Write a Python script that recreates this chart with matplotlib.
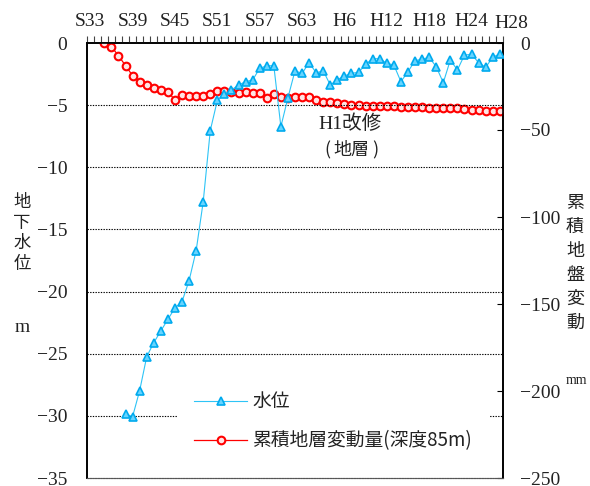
import matplotlib
matplotlib.use('Agg')
import matplotlib.pyplot as plt
import numpy as np
from matplotlib.lines import Line2D
from matplotlib.patches import Rectangle

# ---------------- data ----------------
tick_labels = ['S33', 'S39', 'S45', 'S51', 'S57', 'S63', 'H6', 'H12', 'H18', 'H24']
tick_label_years = [1958, 1964, 1970, 1976, 1982, 1988, 1994, 2000, 2006, 2012]
last_label = 'H28'

water_years = list(range(1963, 2017))
water_level = [-29.85, -30.06, -27.97, -25.24, -24.11, -23.17, -22.23, -21.32, -20.81, -19.12,
               -16.71, -12.77, -7.05, -4.62, -4.13, -3.78, -3.38, -3.11, -2.98, -2.04,
               -1.83, -1.83, -6.73, -4.40, -2.24, -2.45, -1.58, -2.40, -2.24, -3.38,
               -2.95, -2.65, -2.44, -2.36, -1.72, -1.26, -1.26, -1.64, -1.77, -3.11,
               -2.31, -1.42, -1.31, -1.15, -1.91, -3.19, -1.37, -2.17, -0.97, -0.91,
               -1.58, -1.96, -1.15, -0.88]

subs_years = list(range(1960, 2017))
subsidence = [0.0, -2.1, -7.3, -13.0, -18.8, -22.2, -24.1, -25.9, -27.0, -28.0,
              -32.8, -29.7, -30.3, -30.6, -30.3, -29.3, -27.6, -27.6, -28.0, -28.5,
              -28.4, -28.5, -28.5, -31.5, -29.1, -30.8, -31.5, -30.8, -30.8, -30.8,
              -32.8, -33.7, -34.1, -34.7, -35.2, -35.6, -35.8, -36.0, -36.0, -36.0,
              -36.2, -36.4, -36.6, -36.8, -37.0, -37.0, -37.2, -37.2, -37.4, -37.4,
              -37.5, -38.1, -38.5, -38.7, -38.9, -39.1, -39.3]

left_ticks = [0, -5, -10, -15, -20, -25, -30, -35]
right_ticks = [0, -50, -100, -150, -200, -250]

label_water = '水位'
label_subs = '累積地層変動量(深度85m)'

# ---------------- style ----------------
SERIF = ['Liberation Serif', 'Noto Sans CJK JP']
CJK = ['Noto Sans CJK JP', 'DejaVu Sans']
plt.rcParams['font.family'] = SERIF
TXT = '#222222'
BLUE = '#2ec4f6'
BLUE_E = '#00aaee'
RED = '#ff0000'

W, H = 590, 486
fig = plt.figure(figsize=(W / 100, H / 100), dpi=100)
x0, x1, yt, yb = 86.7, 503.3, 43, 478
ax = fig.add_axes([x0 / W, 1 - yb / H, (x1 - x0) / W, (yb - yt) / H])
ax2 = ax.twinx()

ax.set_xlim(1957.5, 2016.5)
ax.set_ylim(-35, 0)
ax2.set_ylim(-250, 0)

# top category axis
ax.xaxis.set_ticks_position('top')
ax.set_xticks(np.arange(1957.5, 2017, 1.0))
ax.set_xticklabels([])
ax.set_xticks(tick_label_years, minor=True)
ax.set_xticklabels(tick_labels, minor=True)
ax.tick_params(axis='x', which='major', top=True, bottom=False, direction='out',
               length=5, width=0.8, color='#444444', labeltop=False, labelbottom=False)
ax.tick_params(axis='x', which='minor', top=True, bottom=False, length=0,
               pad=9, labelsize=14, labeltop=True, labelbottom=False, labelcolor=TXT)
fig.text(511.7 / W, 1 - 24 / H, last_label, ha='center', va='center', fontsize=14,
         family=SERIF, color=TXT)

# left axis
ax.set_yticks(left_ticks)
ax.set_yticklabels([('−%d' % -v) if v < 0 else '0' for v in left_ticks])
ax.tick_params(axis='y', length=0, pad=14, labelsize=14, labelcolor=TXT)
for v in left_ticks[1:-1]:
    ax.axhline(v, color='black', lw=0.8, ls=(0, (1.2, 1.2)), zorder=0.5)

# right axis
ax2.set_yticks(right_ticks)
ax2.set_yticklabels([('−%d' % -v) if v < 0 else '0' for v in right_ticks])
ax2.tick_params(axis='y', direction='in', length=4, width=0.8, pad=12, labelsize=14,
                labelcolor=TXT)
for a in (ax, ax2):
    a.spines['bottom'].set_linestyle((0, (1.2, 1.2)))
    a.spines['bottom'].set_color('#555555')
    a.spines['top'].set_linewidth(1.2)
    a.spines['left'].set_linewidth(1.2)
    a.spines['right'].set_linewidth(1.2)

# series
red_style = dict(color=RED, lw=0.9, marker='o', ms=5.5, mfc='#ffe4e4', mec=RED, mew=1.5)
blue_style = dict(color=BLUE, lw=0.8, marker='^', ms=5.5, mfc='#66d4ff', mec=BLUE_E, mew=1.2)
ax2.plot(subs_years, subsidence, zorder=3, **red_style)
ax.plot(water_years, water_level, zorder=3, **blue_style)
ax.set_zorder(2)
ax2.set_zorder(1)
ax.patch.set_visible(False)

# annotation
fig.text(350 / W, 1 - 123.5 / H, 'H1改修', fontsize=14, ha='center', va='center',
         family=SERIF, color=TXT)
fig.text(327 / W, 1 - 150 / H, '(', ha='center', va='center', fontsize=13,
         family=CJK, color=TXT)
fig.text(351 / W, 1 - 150 / H, '地層', ha='center', va='center', fontsize=13,
         family=CJK, color=TXT)
fig.text(375 / W, 1 - 150 / H, ')', ha='center', va='center', fontsize=13,
         family=CJK, color=TXT)

# legend with white box
ax.add_patch(Rectangle((178 / W, 1 - 442 / H), (490 - 178) / W, (442 - 385) / H,
                       transform=fig.transFigure, facecolor='white', edgecolor='none',
                       zorder=4, clip_on=False))
handles = [Line2D([], [], **blue_style), Line2D([], [], **red_style)]
leg = ax.legend(handles, [label_water, label_subs], loc='upper left',
                bbox_to_anchor=(185 / W, 1 - 382 / H), bbox_transform=fig.transFigure,
                frameon=False, borderpad=0, handlelength=2.8, handletextpad=0.3,
                labelspacing=0.95, prop={'family': CJK, 'size': 13.5})
for t in leg.get_texts():
    t.set_color(TXT)
leg.set_zorder(5)

# axis titles (stacked characters)
for i, ch in enumerate('地下水位'):
    fig.text(22 / W, 1 - (202 + i * 20.7) / H, ch, ha='center', va='center',
             fontsize=12.5, family=CJK, color=TXT)
fig.text(22 / W, 1 - 327 / H, 'm', ha='center', va='center', fontsize=14, family=SERIF,
         color=TXT)
for i, ch in enumerate('累積地盤変動'):
    fig.text(575 / W, 1 - (203 + i * 24) / H, ch, ha='center', va='center',
             fontsize=13, family=CJK, color=TXT)
fig.text(576 / W, 1 - 380 / H, 'mm', ha='center', va='center', fontsize=10, family=SERIF,
         color=TXT)

fig.savefig('out.png', dpi=100)
